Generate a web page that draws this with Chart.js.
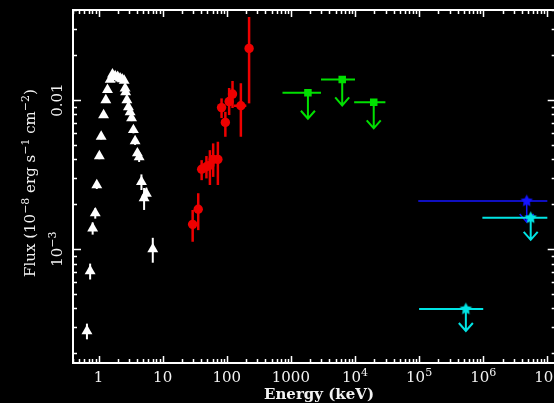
<!DOCTYPE html>
<html>
<head>
<meta charset="utf-8">
<script src="https://cdn.jsdelivr.net/npm/chart.js@4/dist/chart.umd.min.js"></script>
<style>
  html, body { margin: 0; padding: 0; background: #000; overflow: hidden; width: 554px; height: 403px; }
  #wrap { position: absolute; left: 0; top: 0; width: 562px; height: 403px; }
  canvas { display: block; }
</style>
</head>
<body>
<div id="wrap"><canvas id="c" width="562" height="403"></canvas></div>
<script>
// ---- X-ray (soft) spectrum: white triangles ----
const softEnergy = [0.66, 0.74, 0.81, 0.89, 0.94, 1.03, 1.10, 1.20, 1.30, 1.38, 1.52, 1.65, 1.82, 1.99, 2.17, 2.34,
                    2.51, 2.60, 2.65, 2.77, 2.93, 3.11, 3.28, 3.50, 3.72, 4.04, 4.30, 4.67, 5.14, 5.58, 7.02];
const softFlux   = [2.82e-4, 7.12e-4, 1.38e-3, 1.74e-3, 2.69e-3, 4.21e-3, 5.69e-3, 7.93e-3, 0.0100, 0.0117, 0.0137,
                    0.0149, 0.0145, 0.0143, 0.0140, 0.0138, 0.0135, 0.0120, 0.0113, 0.0100, 0.00898, 0.0083, 0.00757,
                    0.0063, 0.0053, 0.0044, 0.00414, 0.00283, 0.0022, 0.00236, 0.0010];
const softErr    = [3.4e-5, 8.7e-5, 1.3e-4, 1.4e-4, 1.6e-4, 2.0e-4, 2.5e-4, 3.0e-4, 3.5e-4, 4.0e-4, 4.5e-4,
                    5.0e-4, 5.0e-4, 5.0e-4, 5.0e-4, 5.0e-4, 5.0e-4, 4.5e-4, 4.5e-4, 4.0e-4, 3.8e-4, 3.6e-4, 3.5e-4,
                    3.2e-4, 3.0e-4, 3.0e-4, 3.0e-4, 3.4e-4, 3.7e-4, 2.2e-4, 1.9e-4];

// ---- Hard X-ray: red circles ----
const hardEnergy = [29.4, 35.9, 40.6, 48.2, 54.6, 61.4, 72.7, 83.0, 95.1, 109, 123, 166, 223];
const hardFlux   = [1.465e-3, 1.85e-3, 3.43e-3, 3.57e-3, 3.66e-3, 4.0e-3, 4.0e-3, 8.9e-3, 7.08e-3, 9.77e-3, 0.01097, 9.16e-3, 0.0222];
const hardLo     = [1.12e-3, 1.34e-3, 2.90e-3, 2.98e-3, 2.69e-3, 3.05e-3, 2.69e-3, 7.57e-3, 5.67e-3, 7.93e-3, 8.84e-3, 5.67e-3, 9.5e-3];
const hardHi     = [1.83e-3, 2.37e-3, 3.95e-3, 4.21e-3, 4.61e-3, 5.12e-3, 5.25e-3, 0.01026, 8.34e-3, 0.01205, 0.01343, 0.01294, 0.0361];
const hardELo    = [25.0, null, null, null, null, null, null, null, null, null, null, 129, null];
const hardEHi    = [31.9, null, null, null, null, null, null, null, null, null, null, 202, null];

// ---- MeV upper limits: green squares ----
const mevEnergy = [1845, 6320, 19600];
const mevFlux   = [0.01119, 0.01376, 0.00965];
const mevELo    = [740, 2950, 9700];
const mevEHi    = [2950, 10000, 29800];

// ---- GeV upper limit: blue star ----
const gevEnergy = [4.77e6];
const gevFlux   = [2.10e-3];
const gevELo    = [9.7e4];
const gevEHi    = [1.0e7];

// ---- High-energy upper limits: cyan stars ----
const heEnergy = [5.36e5, 5.5e6];
const heFlux   = [3.96e-4, 1.62e-3];
const heELo    = [1.0e5, 9.7e5];
const heEHi    = [1.0e6, 1.0e7];

// ---- Axes ----
const xRange = [0.4, 1.35e7];
const yRange = [1.72e-4, 0.0402];
const xMajor = [1, 10, 100, 1000, 1e4, 1e5, 1e6, 1e7];
const xTickLabels = [['1'], ['10'], ['100'], ['1000'], ['10', '4'], ['10', '5'], ['10', '6'], ['10', '7']];
const yMajor = [0.01, 0.001];
const yTickLabels = [['0.01'], ['10', '\u22123']];
const xTitle = 'Energy (keV)';
const yTitle = [['Flux (10', false], ['\u22128', true], [' erg s', false], ['\u22121', true], [' cm', false], ['\u22122', true], [')', false]];

const FONT = "'DejaVu Serif', 'Liberation Serif', serif";
const TEXT = '#f2f2f2';
const COL = { soft: '#ffffff', hard: '#ee0000', mev: '#00e000', gev: '#1414ff', he: '#00e4e4' };

function pts(xs, ys) { return xs.map((x, i) => ({ x: x, y: ys[i] })); }

function starSprite(color, r) {
  const s = Math.ceil(2 * r + 2);
  const c = document.createElement('canvas');
  c.width = c.height = s;
  const g = c.getContext('2d');
  g.fillStyle = color;
  g.beginPath();
  for (let k = 0; k < 10; k++) {
    const a = -Math.PI / 2 + k * Math.PI / 5;
    const rr = k % 2 ? r * 0.5 : r;
    g.lineTo(s / 2 + rr * Math.cos(a), s / 2 + rr * Math.sin(a));
  }
  g.closePath();
  g.fill();
  return c;
}

// Error bars and upper-limit arrows, drawn underneath the markers
const errorBars = {
  id: 'errorBars',
  beforeDatasetsDraw(chart) {
    const ctx = chart.ctx, xs = chart.scales.x, ys = chart.scales.y;
    ctx.save();
    chart.data.datasets.forEach(ds => {
      const e = ds.errors;
      if (!e) return;
      ctx.strokeStyle = ds.backgroundColor;
      ctx.lineWidth = e.width;
      ctx.lineCap = 'butt';
      ds.data.forEach((p, i) => {
        const px = xs.getPixelForValue(p.x), py = ys.getPixelForValue(p.y);
        ctx.beginPath();
        if (e.yLo && e.yLo[i] != null) {
          ctx.moveTo(px, ys.getPixelForValue(e.yLo[i]));
          ctx.lineTo(px, ys.getPixelForValue(e.yHi[i]));
        }
        if (e.xLo && e.xLo[i] != null) {
          ctx.moveTo(xs.getPixelForValue(e.xLo[i]), py);
          ctx.lineTo(xs.getPixelForValue(e.xHi[i]), py);
        }
        if (e.arrow) {
          const tip = py + e.arrow;
          ctx.moveTo(px, py);
          ctx.lineTo(px, tip);
          ctx.moveTo(px - 7, tip - 8);
          ctx.lineTo(px, tip);
          ctx.lineTo(px + 7, tip - 8);
        }
        ctx.stroke();
      });
    });
    ctx.restore();
  }
};

// Draw a run of text pieces (with superscripts) centred on 0 along the baseline
function drawPieces(ctx, pieces, size, supSize, supRise) {
  const widths = pieces.map(([t, sup]) => {
    ctx.font = (sup ? supSize : size) + 'px ' + FONT;
    return ctx.measureText(t).width;
  });
  let x = -widths.reduce((a, b) => a + b, 0) / 2;
  pieces.forEach(([t, sup], i) => {
    ctx.font = (sup ? supSize : size) + 'px ' + FONT;
    ctx.fillText(t, x, sup ? -supRise : 0);
    x += widths[i];
  });
}

// Boxed frame with inward ticks on all four sides, tick labels and titles
const frame = {
  id: 'frame',
  afterDraw(chart) {
    const ctx = chart.ctx, xs = chart.scales.x, ys = chart.scales.y, a = chart.chartArea;
    ctx.save();
    ctx.strokeStyle = '#ffffff';
    ctx.lineWidth = 2;
    ctx.strokeRect(a.left, a.top, a.right - a.left, a.bottom - a.top);

    ctx.lineWidth = 1.5;
    ctx.beginPath();
    for (let d = -1; d <= 7; d++) {
      for (let m = 1; m <= 9; m++) {
        const v = m * Math.pow(10, d);
        if (v < xRange[0] || v > xRange[1]) continue;
        const px = Math.round(xs.getPixelForValue(v)) + 0.5;
        const len = m === 1 ? 7 : 4;
        ctx.moveTo(px, a.bottom); ctx.lineTo(px, a.bottom - len);
        ctx.moveTo(px, a.top); ctx.lineTo(px, a.top + len);
      }
    }
    for (let d = -4; d <= -1; d++) {
      for (let m = 1; m <= 9; m++) {
        const v = m * Math.pow(10, d);
        if (v < yRange[0] || v > yRange[1]) continue;
        const py = Math.round(ys.getPixelForValue(v)) + 0.5;
        const len = m === 1 ? 8 : 4;
        ctx.moveTo(a.left, py); ctx.lineTo(a.left + len, py);
        ctx.moveTo(a.right, py); ctx.lineTo(a.right - len, py);
      }
    }
    ctx.stroke();

    ctx.fillStyle = TEXT;
    ctx.textBaseline = 'alphabetic';
    ctx.textAlign = 'left';
    // x tick labels
    xMajor.forEach((v, i) => {
      const lab = xTickLabels[i];
      const pieces = lab.length > 1 ? [[lab[0], false], [lab[1], true]] : [[lab[0], false]];
      ctx.save();
      ctx.translate(xs.getPixelForValue(v), 381.5);
      drawPieces(ctx, pieces, 15, 11, 6);
      ctx.restore();
    });
    // y tick labels, rotated
    yMajor.forEach((v, i) => {
      const lab = yTickLabels[i];
      const pieces = lab.length > 1 ? [[lab[0], false], [lab[1], true]] : [[lab[0], false]];
      ctx.save();
      ctx.translate(62, ys.getPixelForValue(v));
      ctx.rotate(-Math.PI / 2);
      drawPieces(ctx, pieces, 15, 11, 6);
      ctx.restore();
    });
    // axis titles
    ctx.save();
    ctx.translate(319, 399);
    ctx.font = 'bold 15px ' + FONT;
    ctx.textAlign = 'center';
    ctx.fillText(xTitle, 0, 0);
    ctx.restore();

    ctx.save();
    ctx.translate(35, 183);
    ctx.rotate(-Math.PI / 2);
    drawPieces(ctx, yTitle, 15, 11, 6);
    ctx.restore();
    ctx.restore();
  }
};

new Chart(document.getElementById('c').getContext('2d'), {
  type: 'scatter',
  data: {
    datasets: [
      {
        label: 'soft', data: pts(softEnergy, softFlux),
        backgroundColor: COL.soft, borderColor: COL.soft, borderWidth: 0,
        pointStyle: 'triangle', pointRadius: 6.3,
        errors: { width: 2, yLo: softFlux.map((f, i) => f - softErr[i]), yHi: softFlux.map((f, i) => f + softErr[i]) }
      },
      {
        label: 'hard', data: pts(hardEnergy, hardFlux),
        backgroundColor: COL.hard, borderColor: COL.hard, borderWidth: 0,
        pointStyle: 'circle', pointRadius: 4.7,
        errors: { width: 2.5, yLo: hardLo, yHi: hardHi, xLo: hardELo, xHi: hardEHi }
      },
      {
        label: 'mev', data: pts(mevEnergy, mevFlux),
        backgroundColor: COL.mev, borderColor: COL.mev, borderWidth: 0,
        pointStyle: 'rect', pointRadius: 5.3,
        errors: { width: 2, xLo: mevELo, xHi: mevEHi, arrow: 26 }
      },
      {
        label: 'gev', data: pts(gevEnergy, gevFlux),
        backgroundColor: COL.gev, borderColor: COL.gev, borderWidth: 0,
        pointStyle: starSprite(COL.gev, 6.5), pointRadius: 6,
        errors: { width: 1.5, xLo: gevELo, xHi: gevEHi, arrow: 21 }
      },
      {
        label: 'he', data: pts(heEnergy, heFlux),
        backgroundColor: COL.he, borderColor: COL.he, borderWidth: 0,
        pointStyle: starSprite(COL.he, 6.5), pointRadius: 6,
        errors: { width: 2, xLo: heELo, xHi: heEHi, arrow: 22 }
      }
    ]
  },
  options: {
    responsive: false,
    animation: false,
    devicePixelRatio: 1,
    layout: { padding: { left: 73, top: 10, right: 5, bottom: 40 } },
    plugins: { legend: { display: false }, tooltip: { enabled: false } },
    scales: {
      x: { type: 'logarithmic', min: xRange[0], max: xRange[1], display: false },
      y: { type: 'logarithmic', min: yRange[0], max: yRange[1], display: false }
    }
  },
  plugins: [errorBars, frame]
});
</script>
</body>
</html>
